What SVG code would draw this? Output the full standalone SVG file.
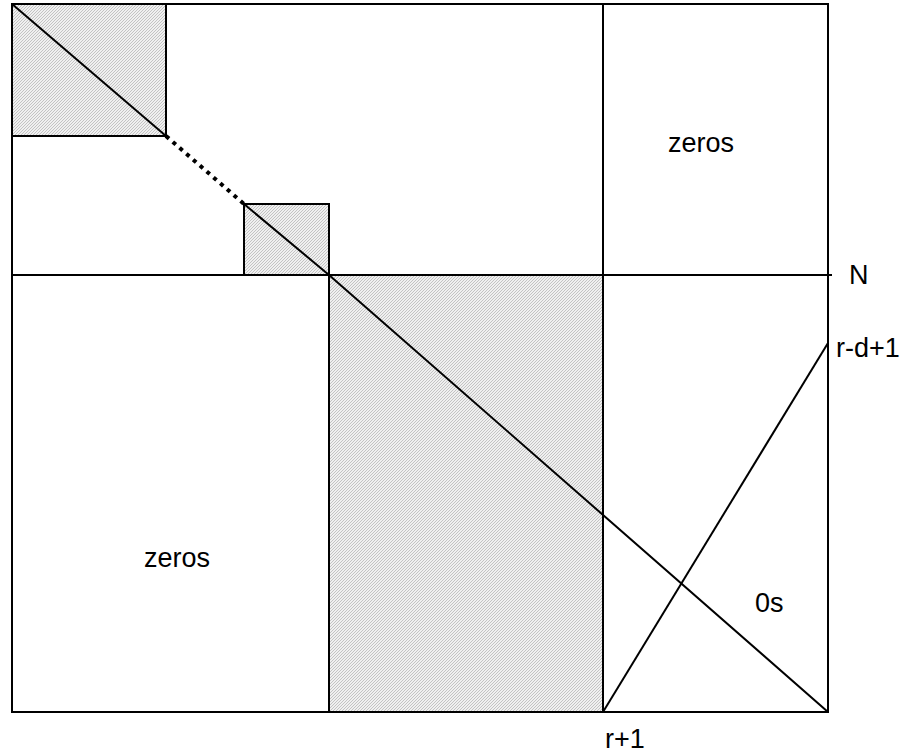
<svg xmlns="http://www.w3.org/2000/svg" width="907" height="756" viewBox="0 0 907 756">
<defs>
<pattern id="hatch" width="3" height="3" patternUnits="userSpaceOnUse">
<rect width="3" height="3" fill="#f0f0f0"/>
<path d="M-1,1 L1,-1 M0,3 L3,0 M2,4 L4,2" stroke="#b8b8b8" stroke-width="0.8"/>
</pattern>
</defs>
<style>
.ln{stroke:#000;stroke-width:2;fill:none}
.sh{fill:url(#hatch);stroke:#000;stroke-width:2}
.t{font-family:"Liberation Sans",Arial,sans-serif;font-size:27px;fill:#000}
</style>
<rect width="907" height="756" fill="#fff"/>
<g id="blocks">
<rect class="sh" x="12" y="4" width="154" height="132"/>
<rect class="sh" x="244" y="204" width="85" height="71"/>
<rect class="sh" x="329" y="275" width="274" height="437"/>
</g>
<g id="frame">
<rect class="ln" x="12" y="4" width="816" height="708"/>
<line class="ln" x1="603" y1="4" x2="603" y2="712"/>
<line class="ln" x1="11" y1="275" x2="832" y2="275"/>
</g>
<g id="connectors">
<polyline class="ln" points="12,4 166,136"/>
<line x1="166" y1="136" x2="244" y2="204" stroke="#000" stroke-width="4" stroke-dasharray="4 5"/>
<polyline class="ln" points="244,204 329,275 828,712"/>
<line class="ln" x1="603" y1="712" x2="828" y2="343"/>
</g>
<g id="labels">
<text class="t" x="668" y="152">zeros</text>
<text class="t" x="144" y="567">zeros</text>
<text class="t" x="755" y="612">0s</text>
<text class="t" x="849" y="284">N</text>
<text class="t" x="836" y="357">r-d+1</text>
<text class="t" x="605" y="748">r+1</text>
</g>
</svg>
